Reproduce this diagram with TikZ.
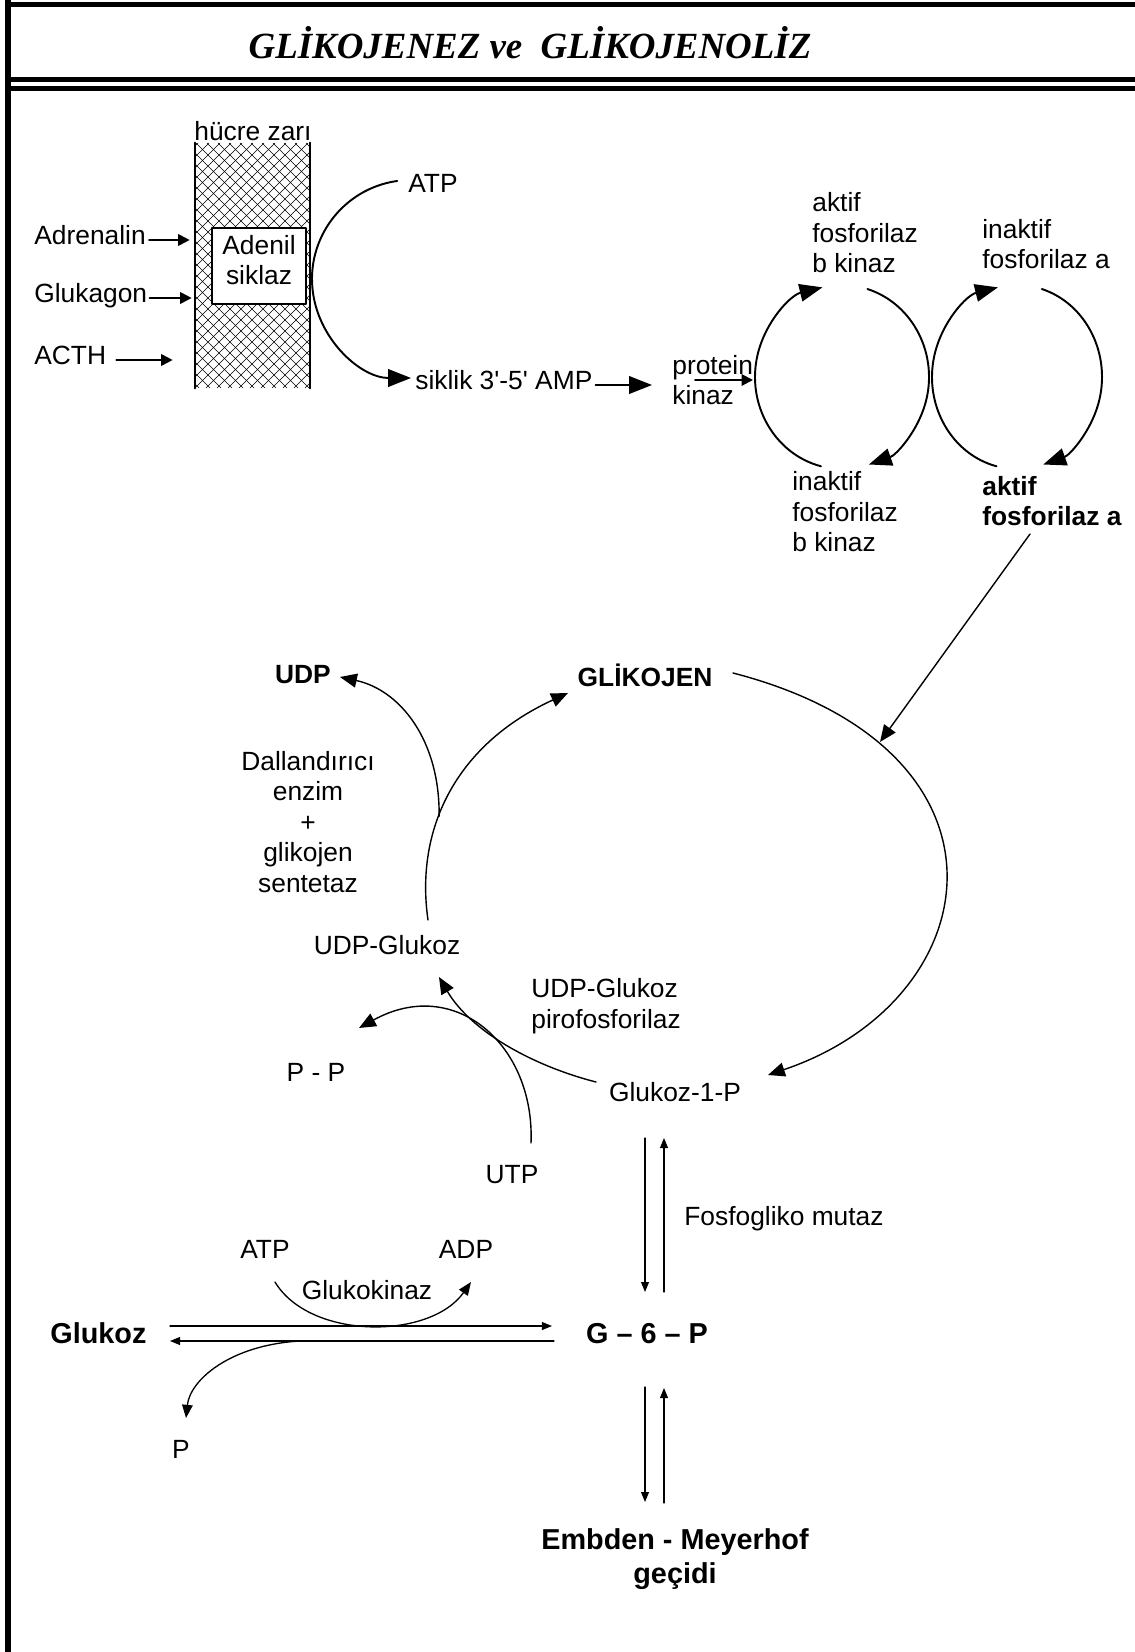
\documentclass[tikz,border=0pt]{standalone}
\usepackage{fontspec}
\setmainfont{Liberation Sans}[Ligatures=TeXOff]
\newfontfamily\basfont{Liberation Serif}
\usetikzlibrary{arrows.meta}

\begin{document}
\begin{tikzpicture}[x=0.02cm, y=-0.02cm, line cap=round, line join=round,
		font=\fontsize{15}{17.4}\selectfont, inner sep=0pt,
		ok/.style={-{Triangle[length=6.5pt, width=6.5pt]}, line width=1.1pt},
		buyukok/.style={-{Triangle[length=13pt, width=10pt]}, line width=1.1pt},
		orta/.style={-{Triangle[length=9.6pt, width=8pt]}, line width=0.8pt},
		kucuk/.style={-{Triangle[length=7.5pt, width=6pt]}, line width=0.75pt},
		ince/.style={-{Triangle[length=5.7pt, width=4.5pt]}, line width=0.7pt},
		kalin/.style={font=\fontsize{16.4}{19.8}\selectfont\bfseries}]
	% Định nghĩa tọa độ các điểm
	\coordinate (atpM) at (411,279);
	\coordinate (kL) at (842,377);
	\coordinate (kR) at (1017,377);
	\coordinate (pkok) at (695,380);
	\coordinate (kLsol) at (753,380);
	\coordinate (akaalt) at (1030,534);
	\coordinate (fosuc) at (880,742);
	\coordinate (gsag) at (733,673);
	\coordinate (g1pust) at (768,1075);
	\coordinate (ugalt) at (428,920);
	\coordinate (gsol) at (568,693);
	\coordinate (udpuc) at (340,677);
	\coordinate (g1psol) at (596,1082);
	\coordinate (udpgalt) at (439,977);
	\coordinate (utpust) at (531,1143);
	\coordinate (ppuc) at (359,1028);
	\coordinate (gkbas) at (275,1282);
	\coordinate (gkuc) at (471,1282);
	\coordinate (pibas) at (300,1341);
	\coordinate (piuc) at (186,1418);
	\coordinate (h1) at (170,1326);
	\coordinate (h2) at (552,1326);
	\coordinate (h3) at (554,1341);
	\coordinate (h4) at (170,1341);
	\coordinate (m1) at (645,1138);
	\coordinate (m2) at (645,1292);
	\coordinate (m3) at (664,1292);
	\coordinate (m4) at (664,1138);
	\coordinate (e1) at (645,1387);
	\coordinate (e2) at (645,1502);
	\coordinate (e3) at (664,1503);
	\coordinate (e4) at (664,1388);
	
	% Khung và tiêu đề
	\fill[white] (0,0) rectangle (1135,1652);
	\useasboundingbox (0,0) rectangle (1135,1652);
	\fill (5,0) rectangle (11,1652);
	\fill (5,2) rectangle (1135,7);
	\fill (5,77) rectangle (1135,82);
	\fill (5,86) rectangle (1135,91);
	\node[font=\basfont\fontsize{21}{24}\selectfont\bfseries\itshape] (baslik) at (530,43) {GLİKOJENEZ ve\ \ GLİKOJENOLİZ};
	
	% Màng tế bào (gạch chéo bằng clip)
	\node[minimum width=2.3cm, minimum height=4.9cm] (zar) at (252.5,265.5) {};
	\begin{scope}
		\clip (zar.south west) rectangle (zar.north east);
		\foreach \c in {-200,-189,...,170}
			\draw[line width=0.35pt] ({\c+143},143) -- ({\c+388},388);
		\foreach \d in {330,341,...,700}
			\draw[line width=0.35pt] ({\d-143},143) -- ({\d-388},388);
	\end{scope}
	\draw[line width=1.1pt] (zar.north west) -- (zar.south west) (zar.north east) -- (zar.south east);
	\node[anchor=base] (zaryazi) at (253,141) {hücre zarı};
	\node[draw, fill=white, line width=0.9pt, minimum width=1.88cm, minimum height=1.52cm] (adenil) at (259,266) {};
	\node[align=center] (adeniltxt) at (259,260) {Adenil\\siklaz};
	
	% Hormonlar
	\foreach \n/\t/\y in {adr/Adrenalin/240, glg/Glukagon/298, acth/ACTH/360}
		\node[anchor=mid west] (\n) at (34,\y) {\t};
	\draw[ok, shorten <=0.06cm, shorten >=0.1cm] (adr.mid east) -- (adr.mid east -| zar.west);
	\draw[ok, shorten <=0.04cm, shorten >=0.06cm] (glg.mid east) -- (glg.mid east -| zar.west);
	\draw[ok, shorten <=0.2cm, shorten >=0.44cm] (acth.mid east) -- (acth.mid east -| zar.west);
	
	% ATP -> cAMP -> protein kinaz
	\node[anchor=mid west] (atp) at (408,188) {ATP};
	\node[anchor=mid west] (camp) at (415,385) {siklik 3'-5' AMP};
	\node[anchor=west, align=left] (pk) at (672,380) {protein\\kinaz};
	\draw[buyukok] (atpM) ++(-98:99) arc[start angle=-98, end angle=-270, radius=99];
	\draw[buyukok, shorten <=0.06cm, shorten >=0.4cm] (camp.mid east) -- (camp.mid east -| pk.west);
	\draw[ok] (pkok) -- (kLsol);
	
	% Hai vòng fosforilaz
	\node[anchor=west, align=left] (akb) at (812,233) {aktif\\fosforilaz\\b kinaz};
	\node[anchor=west, align=left] (ina) at (982,244) {inaktif\\fosforilaz a};
	\node[anchor=west, align=left] (inb) at (792,512) {inaktif\\fosforilaz\\b kinaz};
	\node[anchor=west, align=left, font=\fontsize{15}{17.4}\selectfont\bfseries] (aka) at (982,501) {aktif\\fosforilaz a};
	\draw[buyukok] (kL) ++(104:87 and 92) arc[start angle=104, end angle=257, x radius=87, y radius=92];
	\draw[buyukok] (kL) ++(-73:87 and 92) arc[start angle=-73, end angle=72, x radius=87, y radius=92];
	\draw[buyukok] (kR) ++(104:85 and 92) arc[start angle=104, end angle=257, x radius=85, y radius=92];
	\draw[buyukok] (kR) ++(-73:85 and 92) arc[start angle=-73, end angle=72, x radius=85, y radius=92];
	\draw[orta] (akaalt) -- (fosuc);
	
	% Vòng glikojen
	\node[font=\fontsize{15}{17.4}\selectfont\bfseries, anchor=mid] (glikojen) at (645,682) {GLİKOJEN};
	\node[font=\fontsize{15}{17.4}\selectfont\bfseries, anchor=mid] (udp) at (303,679) {UDP};
	\node[align=center] (enzim) at (308,822) {Dallandırıcı\\enzim\\+\\glikojen\\sentetaz};
	\node[anchor=mid] (udpg) at (387,950) {UDP-Glukoz};
	\node[anchor=west, align=left] (pirofos) at (531,1006) {UDP-Glukoz\\pirofosforilaz};
	\node[anchor=mid] (pp) at (316,1077) {P - P};
	\node[anchor=mid] (g1p) at (675,1097) {Glukoz-1-P};
	\node[anchor=mid] (utp) at (512,1179) {UTP};
	\draw[orta] (gsag) .. controls (1030,750) and (990,1000) .. (g1pust);
	\draw[orta] (ugalt) .. controls (415,830) and (455,745) .. coordinate[pos=0.4] (dal) (gsol);
	\draw[orta] (dal) .. controls (440,740) and (400,690) .. (udpuc);
	\draw[orta] (g1psol) .. controls (530,1065) and (470,1030) .. (udpgalt);
	\draw[orta] (utpust) .. controls (535,1045) and (455,975) .. (ppuc);
	
	% Glukoz <-> G-6-P
	\node[anchor=mid west] (mutaz) at (684,1221) {Fosfogliko mutaz};
	\node[anchor=mid] (atp2) at (265,1254) {ATP};
	\node[anchor=mid] (adp) at (466,1254) {ADP};
	\node[anchor=mid] (gk) at (367,1295) {Glukokinaz};
	\node[kalin, anchor=mid west] (glukoz) at (50,1339) {Glukoz};
	\node[kalin, anchor=mid] (g6p) at (647,1339) {G – 6 – P};
	\node[anchor=mid] (pi) at (181,1454) {P};
	\node[kalin, align=center] (emb) at (675,1559) {Embden - Meyerhof\\geçidi};
	\draw[ince] (h1) -- (h2);
	\draw[ince] (h3) -- (h4);
	\draw[kucuk] (gkbas) .. controls (310,1340) and (430,1340) .. (gkuc);
	\draw[kucuk] (pibas) .. controls (230,1345) and (190,1380) .. (piuc);
	\foreach \a/\b in {m1/m2, m3/m4, e1/e2, e3/e4}
		\draw[ince] (\a) -- (\b);
\end{tikzpicture}
\end{document}
